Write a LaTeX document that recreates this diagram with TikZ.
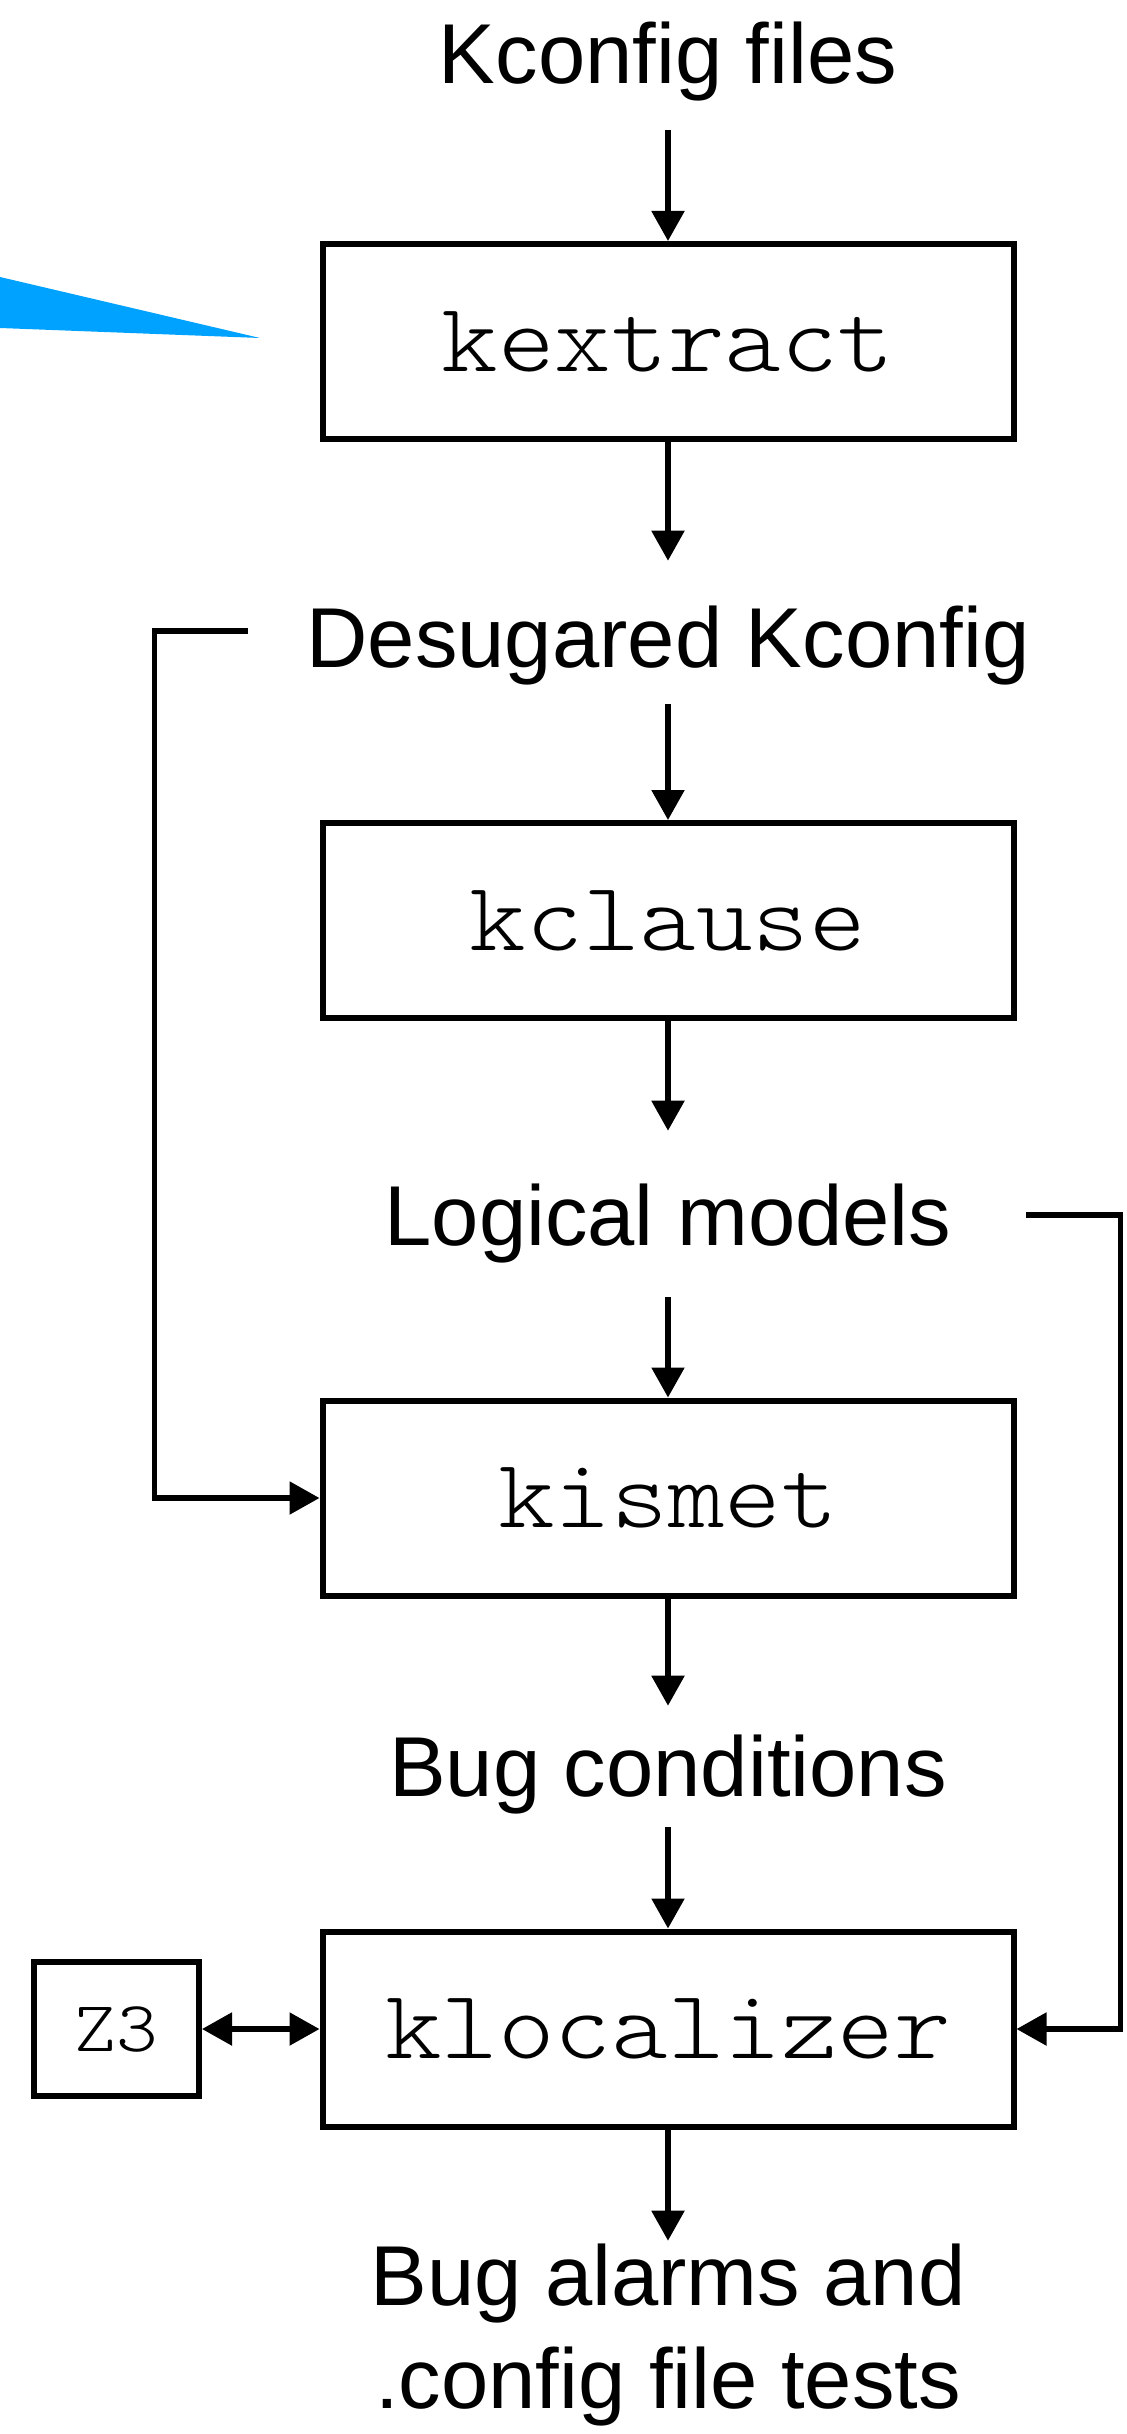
\documentclass[tikz,border=0pt]{standalone}
\usepackage{fontspec}
\setmainfont{Liberation Sans}
\setmonofont[FakeStretch=1.1]{Latin Modern Mono Light}
\usepackage{tikz}
\usetikzlibrary{arrows.meta}
\usetikzlibrary{shapes, positioning, calc}
\definecolor{pointer}{RGB}{0,162,255}

\begin{document}
\begin{tikzpicture}[x=0.5pt, y=-0.5pt, ->, >={Triangle[length=15pt,width=16pt]}, line width=2.7pt,
  sq node/.style={rectangle, draw, line width=3pt, minimum width=345.5pt, minimum height=97.5pt,
    inner sep=0pt, font=\fontsize{49}{58}\ttfamily},
  lbl node/.style={inner sep=0pt, anchor=base, align=center, font=\fontsize{42.5}{51.5}\selectfont}]
  \useasboundingbox (0,0) rectangle (1127,2434);
  \fill[pointer, -] (0,277) -- (260,338) -- (0,328) -- cycle;
  \node[lbl node] (1) at (668,84) {Kconfig files};
  \node[sq node] (2) at (668,341.5) {kextract};
  \node[lbl node] (3) at (668,667) {Desugared Kconfig};
  \node[sq node] (4) at (668,920.5) {kclause};
  \node[lbl node] (5) at (668,1245) {Logical models};
  \node[sq node] (6) at (668,1498) {kismet};
  \node[lbl node] (7) at (668,1796) {Bug conditions};
  \node[sq node] (8) at (668,2029) {klocalizer};
  \node[sq node, minimum width=82.5pt, minimum height=67pt, font=\fontsize{36}{43}\ttfamily] (9) at (116.5,2029) {Z3};
  \node[lbl node] (10) at (668,2408) {Bug alarms and\\.config file tests};
  \path
    (1) edge[shorten <=13pt] (2)
    (2) edge[shorten >=21pt] (3)
    (3) edge[shorten <=8.5pt] (4)
    (4) edge[shorten >=25pt] (5)
    (5) edge[shorten <=16pt] (6)
    (6) edge[shorten >=13pt] (7)
    (7) edge[shorten <=5.5pt] (8)
    (8) edge (10)
    (9) edge[<->] (8);
  \draw[shorten <=28pt] ([yshift=7pt]3.west) -| ([xshift=-82.5pt]6.west) -- (6.west);
  \draw[shorten <=36pt] ([yshift=4pt]5.east) -| ([xshift=52pt]8.east) -- (8.east);
\end{tikzpicture}
\end{document}
